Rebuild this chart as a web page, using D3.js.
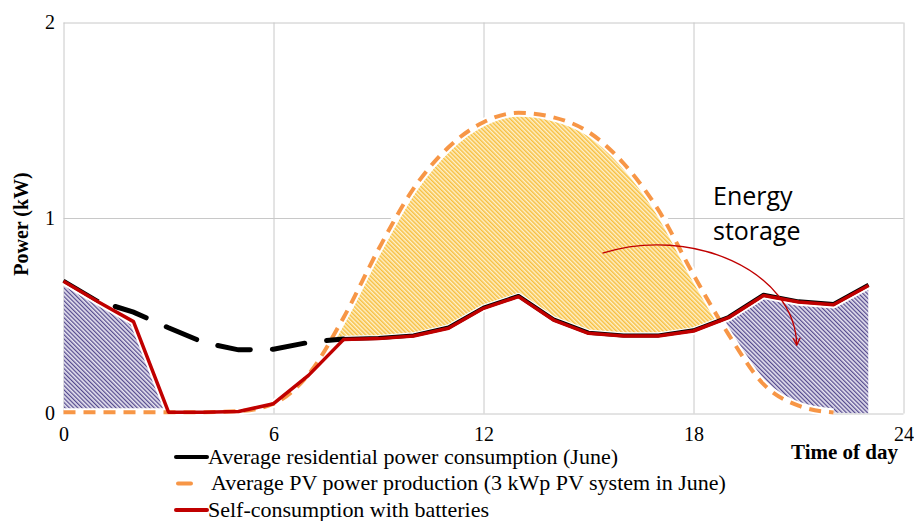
<!DOCTYPE html>
<html>
<head>
<meta charset="utf-8">
<script src="https://cdn.jsdelivr.net/npm/d3@7"></script>
<style>
  html, body { margin: 0; padding: 0; background: #fff; }
  svg { display: block; font-family: 'Liberation Serif', 'Times New Roman', serif; }
</style>
</head>
<body>
<svg id="chart" width="914" height="521"></svg>
<script>
// Hour of day for every reading
const hours = [0, 1, 2, 3, 4, 5, 6, 7, 8, 9, 10, 11, 12, 13, 14, 15, 16, 17, 18, 19, 20, 21, 22, 23];

// Average residential power consumption in June (kW)
const consumption = [0.676, 0.57, 0.515, 0.435, 0.36, 0.322, 0.325, 0.36, 0.378, 0.383, 0.396, 0.436,
                     0.538, 0.598, 0.478, 0.41, 0.396, 0.396, 0.422, 0.49, 0.604, 0.57, 0.556, 0.655];

// Self-consumption with batteries (kW)
const selfConsumption = [0.676, 0.57, 0.47, 0.007, 0.007, 0.01, 0.05, 0.195, 0.378, 0.383, 0.396, 0.436,
                         0.538, 0.598, 0.478, 0.41, 0.396, 0.396, 0.422, 0.49, 0.604, 0.57, 0.556, 0.655];

// Average PV power production, 3 kWp system in June (kW)
const pvProduction = [0.007, 0.007, 0.007, 0.007, 0.007, 0.012, 0.05, 0.2, 0.49, 0.84, 1.15, 1.362,
                      1.49, 1.538, 1.515, 1.44, 1.28, 1.04, 0.71, 0.405, 0.15, 0.04, 0.005, null];

// Hours in which the battery is discharged
const dischargeWindows = [[0, 3], [18, 24]];

const xTicks = [0, 6, 12, 18, 24];
const yTicks = [0, 1, 2];
const legendLabels = [
  "Average residential power consumption (June)",
  "Average PV power production (3 kWp PV system in June)",
  "Self-consumption with batteries"
];
const storageLabel = ["Energy", "storage"];
// Annotation arrow (hour, kW): start, two bezier handles, tip
const storageArrow = [[15.4, 0.82], [17.9, 0.963], [20.9, 0.732], [20.95, 0.35]];

const SERIF = "'Liberation Serif', 'Times New Roman', serif";
const COLORS = {
  consumption: "#000000",
  pv: "#f79646",
  self: "#c00000",
  grid: "#c8c8c8"
};

const svg = d3.select("#chart");
const x = d3.scaleLinear().domain([0, 24]).range([63.5, 903.5]);
const y = d3.scaleLinear().domain([0, 2]).range([413.5, 22.5]);

const rows = hours.map((h, i) => ({
  h, cons: consumption[i], self: selfConsumption[i], pv: pvProduction[i]
}));

// ---------- patterns ----------
const defs = svg.append("defs");
function stripes(id, dark, light, angle, w) {
  const p = defs.append("pattern")
    .attr("id", id)
    .attr("patternUnits", "userSpaceOnUse")
    .attr("width", 3).attr("height", 3)
    .attr("patternTransform", `rotate(${angle})`);
  p.append("rect").attr("width", 3).attr("height", 3).attr("fill", light);
  p.append("rect").attr("width", w).attr("height", 3).attr("fill", dark);
}
stripes("hatchStorage", "#f7bf40", "#fef1cc", -45, 1.5);
stripes("hatchDischarge", "#554a8e", "#e6e3f0", -45, 1.25);

// ---------- clip regions ----------
const clipTop = 0, clipBottom = y(0) + 6;

defs.append("clipPath").attr("id", "aboveConsumption")
  .append("path")
  .attr("d", d3.area().x(d => x(d.h)).y0(clipTop).y1(d => y(d.cons))(rows));

defs.append("clipPath").attr("id", "abovePV")
  .append("path")
  .attr("d", d3.area().curve(d3.curveMonotoneX)
    .x(d => x(d.h)).y0(clipTop).y1(d => y(d.pv ?? 0))(rows));

defs.append("clipPath").attr("id", "discharge")
  .selectAll("rect").data(dischargeWindows).join("rect")
  .attr("x", d => x(d[0])).attr("width", d => x(d[1]) - x(d[0]))
  .attr("y", clipTop).attr("height", clipBottom - clipTop);

// ---------- grid & axes ----------
const gx = svg.append("g")
  .attr("transform", `translate(0,${y(0)})`)
  .call(d3.axisBottom(x).tickValues(xTicks).tickFormat(d3.format("d"))
    .tickSize(-(y(0) - y(2))).tickPadding(13.5));
const gy = svg.append("g")
  .attr("transform", `translate(${x(0)},0)`)
  .call(d3.axisLeft(y).tickValues(yTicks).tickFormat(d3.format("d"))
    .tickSize(-(x(24) - x(0))).tickPadding(8.5));
[gx, gy].forEach(g => {
  g.attr("font-family", null).attr("font-size", null);
  g.select(".domain").remove();
  g.selectAll(".tick line").attr("stroke", COLORS.grid).attr("stroke-width", 1);
  g.selectAll(".tick text")
    .style("font-family", SERIF)
    .style("font-size", "20px").attr("fill", "#000");
});

// ---------- filled regions ----------
const pvDefined = d => d.pv != null;

svg.append("path")
  .attr("clip-path", "url(#aboveConsumption)")
  .attr("fill", "url(#hatchStorage)")
  .attr("d", d3.area().curve(d3.curveMonotoneX).defined(pvDefined)
    .x(d => x(d.h)).y0(y(0)).y1(d => y(d.pv))(rows));

svg.append("g").attr("clip-path", "url(#discharge)")
  .append("path")
  .attr("clip-path", "url(#abovePV)")
  .attr("fill", "url(#hatchDischarge)")
  .attr("d", d3.area().x(d => x(d.h)).y0(y(0)).y1(d => y(d.self))(rows));

// ---------- lines ----------
const pvLine = d3.line().curve(d3.curveMonotoneX).defined(pvDefined)
  .x(d => x(d.h)).y(d => y(d.pv));
const selfLine = d3.line().x(d => x(d.h)).y(d => y(d.self));

// white separation under the lines that border the hatched regions
svg.append("path").attr("d", pvLine(rows))
  .attr("fill", "none").attr("stroke", "#fff").attr("stroke-width", 8);
svg.append("path").attr("d", selfLine(rows))
  .attr("fill", "none").attr("stroke", "#fff").attr("stroke-width", 7.5)
  .attr("stroke-linejoin", "round");

svg.append("path").attr("d", pvLine(rows))
  .attr("fill", "none").attr("stroke", COLORS.pv).attr("stroke-width", 4)
  .attr("stroke-dasharray", "12,8");

// consumption: solid where it coincides with self-consumption, dashed otherwise
const same = i => Math.abs(rows[i].cons - rows[i].self) < 1e-9;
const consGroup = svg.append("g").attr("transform", "translate(0,-0.7)");
consGroup.append("path")
  .attr("d", d3.line().defined((d, i) => same(i)).x(d => x(d.h)).y(d => y(d.cons))(rows))
  .attr("fill", "none").attr("stroke", COLORS.consumption).attr("stroke-width", 4)
  .attr("stroke-linejoin", "round");
consGroup.append("path")
  .attr("d", d3.line()
    .defined((d, i) => !same(i) || (i > 0 && !same(i - 1)) || (i < rows.length - 1 && !same(i + 1)))
    .x(d => x(d.h)).y(d => y(d.cons))(rows))
  .attr("fill", "none").attr("stroke", COLORS.consumption).attr("stroke-width", 5)
  .attr("stroke-linecap", "round").attr("stroke-dasharray", "33,22").attr("stroke-dashoffset", 37.5);

svg.append("path").attr("d", selfLine(rows))
  .attr("fill", "none").attr("stroke", COLORS.self).attr("stroke-width", 3.5)
  .attr("stroke-linejoin", "round");

// ---------- annotation ----------
defs.append("marker").attr("id", "arrowHead")
  .attr("viewBox", "0 0 10 10").attr("refX", 9).attr("refY", 5)
  .attr("markerWidth", 9).attr("markerHeight", 9).attr("markerUnits", "userSpaceOnUse")
  .attr("orient", "auto")
  .append("path").attr("d", "M1,1 L9,5 L1,9")
  .attr("fill", "none").attr("stroke", COLORS.self).attr("stroke-width", 1.5);

const ap = d3.path();
const P = storageArrow.map(([h, v]) => [x(h), y(v)]);
ap.moveTo(P[0][0], P[0][1]);
ap.bezierCurveTo(P[1][0], P[1][1], P[2][0], P[2][1], P[3][0], P[3][1]);
svg.append("path").attr("d", ap.toString())
  .attr("fill", "none").attr("stroke", COLORS.self).attr("stroke-width", 1.3)
  .attr("marker-end", "url(#arrowHead)");

svg.append("text")
  .style("font-family", "'Open Sans', 'Noto Sans', sans-serif")
  .attr("font-size", 25).attr("fill", "#000")
  .selectAll("tspan").data(storageLabel).join("tspan")
  .attr("x", 713).attr("y", (d, i) => 205 + i * 35)
  .text(d => d);

// ---------- axis titles ----------
svg.append("text")
  .attr("transform", "translate(28,224) rotate(-90)")
  .attr("text-anchor", "middle")
  .style("font-family", SERIF)
  .attr("font-weight", "bold").attr("font-size", 20)
  .text("Power (kW)");

svg.append("text")
  .attr("transform", "translate(898,459) scale(1.05,1)")
  .attr("text-anchor", "end")
  .style("font-family", SERIF)
  .attr("font-weight", "bold").attr("font-size", 20)
  .text("Time of day");

// ---------- legend ----------
const legendKeys = [
  { color: COLORS.consumption, x1: 176, x2: 207, tx: 208 },
  { color: COLORS.pv, x1: 178, x2: 191, tx: 211 },
  { color: COLORS.self, x1: 176, x2: 207, tx: 208 }
];
const legend = svg.append("g");
legendLabels.forEach((label, i) => {
  const cy = 457 + i * 26.5;
  const k = legendKeys[i];
  legend.append("line")
    .attr("x1", k.x1).attr("x2", k.x2).attr("y1", cy).attr("y2", cy)
    .attr("stroke", k.color).attr("stroke-width", 4).attr("stroke-linecap", "round");
  legend.append("text")
    .attr("transform", `translate(${k.tx},${cy + 6.5}) scale(1.1,1)`)
    .style("font-family", SERIF)
    .attr("font-size", 20).attr("fill", "#000")
    .text(label);
});
</script>
</body>
</html>
